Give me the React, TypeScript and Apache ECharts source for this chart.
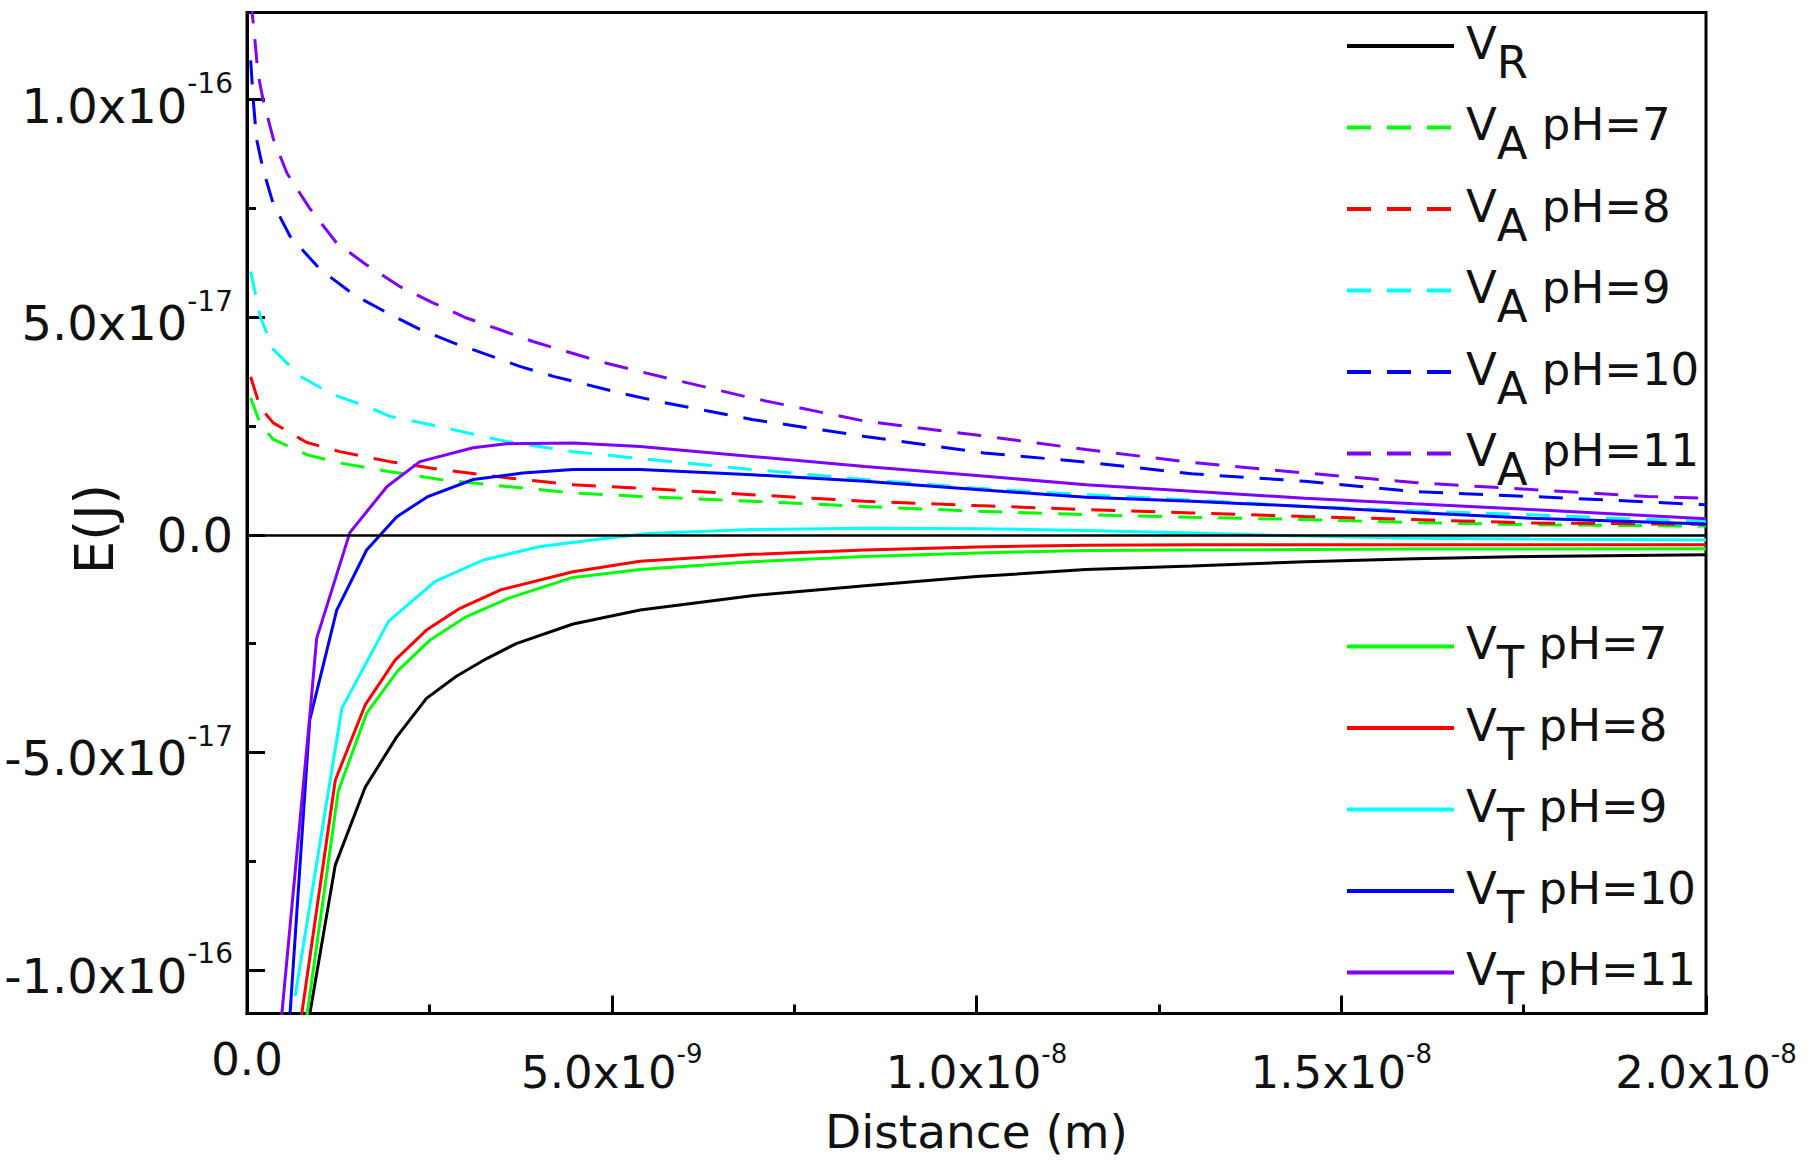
import React, { useEffect, useRef } from 'react';
import * as echarts from 'echarts';

// Distance in nm (x 1e-9 m), energy in units of 1e-17 J
const vR: [number, number][] = [
  [0.8, -11.6], [1.21, -7.59], [1.62, -5.8], [2.05, -4.65], [2.46, -3.76], [2.87, -3.25],
  [3.28, -2.85], [3.69, -2.5], [4.47, -2.05], [5.39, -1.73], [6.92, -1.4], [8.47, -1.17],
  [10.0, -0.96], [11.5, -0.8], [12.95, -0.72], [14.5, -0.62], [16.0, -0.55], [17.6, -0.5], [20.0, -0.46],
];

const vApH7: [number, number][] = [
  [0.05, 3.15], [0.18, 2.55], [0.36, 2.19], [0.82, 1.84], [1.27, 1.65], [1.96, 1.45], [2.65, 1.27],
  [3.56, 1.11], [4.47, 0.96], [5.39, 0.88], [6.92, 0.77], [8.47, 0.65], [10.0, 0.54], [11.5, 0.46],
  [12.95, 0.4], [14.5, 0.35], [16.0, 0.28], [17.6, 0.23], [20.0, 0.2],
];
const vApH8: [number, number][] = [
  [0.05, 3.63], [0.18, 2.93], [0.36, 2.57], [0.82, 2.12], [1.27, 1.91], [1.96, 1.68], [2.65, 1.5],
  [3.56, 1.31], [4.47, 1.15], [5.39, 1.07], [6.92, 0.92], [8.47, 0.77], [10.0, 0.67], [11.5, 0.58],
  [12.95, 0.5], [14.5, 0.42], [16.0, 0.35], [17.6, 0.27], [20.0, 0.24],
];
const vApH9: [number, number][] = [
  [0.05, 6.05], [0.18, 5.02], [0.36, 4.26], [0.73, 3.64], [1.18, 3.22], [1.64, 2.95], [1.96, 2.72],
  [2.65, 2.48], [3.56, 2.14], [4.47, 1.91], [5.39, 1.75], [6.92, 1.5], [8.47, 1.27], [10.0, 1.07],
  [11.5, 0.92], [12.95, 0.8], [14.5, 0.65], [16.0, 0.55], [17.6, 0.46], [20.0, 0.3],
];
const vApH10: [number, number][] = [
  [0.05, 10.9], [0.09, 9.9], [0.13, 9.1], [0.22, 8.4], [0.36, 7.6], [0.59, 6.86], [1.0, 6.1],
  [1.46, 5.52], [1.92, 5.1], [2.37, 4.72], [2.83, 4.41], [3.29, 4.14], [3.74, 3.87], [4.2, 3.64],
  [4.66, 3.45], [5.11, 3.26], [5.62, 3.07], [6.92, 2.65], [8.47, 2.26], [10.1, 1.88], [11.5, 1.67],
  [12.95, 1.4], [14.5, 1.23], [16.0, 0.99], [17.6, 0.88], [20.0, 0.69],
];
const vApH11: [number, number][] = [
  [0.05, 12.3], [0.09, 11.7], [0.15, 10.6], [0.22, 10.0], [0.36, 9.1], [0.55, 8.3], [0.86, 7.5],
  [1.23, 6.7], [1.64, 6.2], [2.1, 5.7], [2.55, 5.33], [3.01, 4.98], [3.47, 4.71], [3.92, 4.44],
  [4.38, 4.21], [4.84, 3.98], [5.36, 3.76], [6.92, 3.14], [8.47, 2.61], [10.0, 2.29], [11.5, 1.96],
  [12.95, 1.66], [14.5, 1.42], [16.0, 1.2], [17.6, 1.04], [19.2, 0.88], [20.0, 0.84],
];

const vTpH7: [number, number][] = [
  [0.8, -11.3], [1.25, -5.9], [1.64, -4.1], [2.07, -3.12], [2.51, -2.42], [3.01, -1.88], [3.6, -1.45],
  [4.47, -0.98], [5.39, -0.8], [6.92, -0.62], [8.47, -0.5], [10.0, -0.42], [11.5, -0.36],
  [12.95, -0.35], [14.5, -0.34], [16.0, -0.33], [17.6, -0.33], [20.0, -0.32],
];
const vTpH8: [number, number][] = [
  [0.7, -11.6], [1.21, -5.64], [1.62, -3.91], [2.03, -2.88], [2.46, -2.19], [2.92, -1.69], [3.47, -1.27],
  [4.47, -0.85], [5.39, -0.61], [6.92, -0.45], [8.47, -0.35], [10.0, -0.28], [11.5, -0.24],
  [12.95, -0.23], [14.5, -0.23], [16.0, -0.23], [17.6, -0.23], [20.0, -0.23],
];
const vTpH9: [number, number][] = [
  [0.66, -10.6], [1.3, -3.99], [1.94, -1.99], [2.58, -1.07], [3.24, -0.58], [4.02, -0.27], [4.93, -0.08],
  [5.5, 0.03], [6.92, 0.12], [8.47, 0.15], [10.0, 0.14], [11.5, 0.1], [12.95, 0.04], [14.5, -0.03],
  [16.0, -0.08], [17.6, -0.1], [20.0, -0.12],
];
const vTpH10: [number, number][] = [
  [0.57, -11.5], [0.86, -4.26], [1.23, -1.73], [1.64, -0.35], [2.05, 0.41], [2.47, 0.87], [3.1, 1.27],
  [3.78, 1.42], [4.47, 1.5], [5.39, 1.5], [6.92, 1.38], [8.47, 1.23], [10.0, 1.04], [11.5, 0.86],
  [12.95, 0.77], [14.5, 0.65], [16.0, 0.51], [17.6, 0.38], [20.0, 0.25],
];
const vTpH11: [number, number][] = [
  [0.45, -11.5], [0.86, -4.18], [0.955, -2.38], [1.41, 0.05], [1.92, 1.11], [2.37, 1.68], [3.1, 2.0],
  [3.56, 2.09], [4.47, 2.11], [5.39, 2.03], [6.92, 1.8], [8.47, 1.57], [10.0, 1.36], [11.5, 1.15],
  [12.95, 1.0], [14.5, 0.84], [16.0, 0.71], [17.6, 0.58], [20.0, 0.37],
];

const seriesNames = [
  'VR', 'VA pH=7', 'VA pH=8', 'VA pH=9', 'VA pH=10', 'VA pH=11',
  'VT pH=7', 'VT pH=8', 'VT pH=9', 'VT pH=10', 'VT pH=11',
];
const seriesData = [vR, vApH7, vApH8, vApH9, vApH10, vApH11, vTpH7, vTpH8, vTpH9, vTpH10, vTpH11];
const seriesColors = [
  '#000000', '#00ff00', '#ff0000', '#00ffff', '#0000ff', '#8000ff',
  '#00ff00', '#ff0000', '#00ffff', '#0000ff', '#8000ff',
];
const seriesDashed = [false, true, true, true, true, true, false, false, false, false, false];

const xTickValues = [0, 5, 10, 15, 20];
const xTickMantissas = ['0.0', '5.0', '1.0', '1.5', '2.0'];
const xTickExponents = ['', '-9', '-8', '-8', '-8'];
const yTickValues = [-10, -5, 0, 5, 10];
const yTickMantissas = ['-1.0', '-5.0', '0.0', '5.0', '1.0'];
const yTickExponents = ['-16', '-17', '', '-17', '-16'];
const yMinorTicks = [-7.5, -2.5, 2.5, 7.5];

const FONT = 'DejaVu Sans';
const INK = '#111111';

function tickLabel(values: number[], mants: string[], exps: string[], v: number): string {
  let idx = 0;
  let best = Infinity;
  values.forEach((t, i) => {
    const d = Math.abs(t - v);
    if (d < best) { best = d; idx = i; }
  });
  if (!exps[idx]) return `{z|${mants[idx]}}`;
  return `{m|${mants[idx]}x10}{s|${exps[idx]}}`;
}

function legendLabel(name: string): string {
  const sub = name.charAt(1);
  const rest = name.slice(2);
  return `{v|V}{s|${sub}}` + (rest ? `{t|${rest}}` : '');
}

const legendRich = {
  v: { fontFamily: FONT, fontSize: 45, lineHeight: 45, color: INK, padding: [0, 0, 6, 7], verticalAlign: 'middle' },
  s: { fontFamily: FONT, fontSize: 45, lineHeight: 45, color: INK, padding: [32, 0, 0, 0], verticalAlign: 'middle' },
  t: { fontFamily: FONT, fontSize: 45, lineHeight: 45, color: INK, padding: [0, 0, 6, 0], verticalAlign: 'middle' },
};

function makeLegend(names: string[], top: number) {
  return {
    data: names,
    orient: 'vertical',
    left: 1345,
    top,
    padding: 0,
    itemGap: 4.5,
    itemWidth: 107,
    itemHeight: 4,
    selectedMode: false,
    itemStyle: { opacity: 0 },
    lineStyle: { width: 4 },
    formatter: legendLabel,
    textStyle: { fontFamily: FONT, fontSize: 45, color: INK, rich: legendRich },
  };
}

export default function App() {
  const ref = useRef<HTMLDivElement>(null);
  useEffect(() => {
    document.body.style.margin = '0';
    const chart = echarts.init(ref.current!, null, { renderer: 'svg' });
    const series: any[] = seriesNames.map((name, i) => ({
      name,
      type: 'line',
      data: seriesData[i],
      symbol: 'none',
      showSymbol: false,
      smooth: false,
      clip: true,
      color: seriesColors[i],
      lineStyle: {
        color: seriesColors[i],
        width: 3,
        type: seriesDashed[i] ? [24, 16] : 'solid',
      },
      z: seriesDashed[i] ? 2 : 3,
    }));
    series[0].markLine = {
      silent: true,
      symbol: ['none', 'none'],
      label: { show: false },
      lineStyle: { color: '#000', width: 2.5, type: 'solid' },
      data: [{ yAxis: 0 }],
    };

    const option: any = {
      animation: false,
      backgroundColor: '#ffffff',
      textStyle: { fontFamily: FONT },
      grid: {
        left: 247, top: 12.5, width: 1459, height: 1001,
        containLabel: false,
        outerBoundsMode: 'none',
        show: true, borderColor: '#000', borderWidth: 3, backgroundColor: 'transparent',
      },
      legend: [
        makeLegend(seriesNames.slice(0, 6), 7.5),
        makeLegend(seriesNames.slice(6), 608),
      ],
      xAxis: {
        type: 'value',
        min: 0, max: 20, interval: 5,
        name: 'Distance (m)',
        nameLocation: 'middle',
        nameGap: 94,
        nameMoveOverlap: false,
        nameTextStyle: { fontFamily: FONT, fontSize: 47, color: INK },
        axisLine: { show: true, onZero: false, lineStyle: { color: '#000', width: 3 } },
        axisTick: { show: true, inside: true, length: 18, lineStyle: { color: '#000', width: 3 } },
        minorTick: { show: true, splitNumber: 2, length: 9, lineStyle: { color: '#000', width: 3 } },
        splitLine: { show: false },
        minorSplitLine: { show: false },
        axisLabel: {
          show: true, margin: 45.5, color: INK, fontFamily: FONT, fontSize: 45,
          verticalAlign: 'middle',
          showMinLabel: true, showMaxLabel: true, hideOverlap: false,
          formatter: (v: number) => tickLabel(xTickValues, xTickMantissas, xTickExponents, v),
          rich: {
            z: { fontFamily: FONT, fontSize: 45, lineHeight: 45, color: INK, verticalAlign: 'middle' },
            m: { fontFamily: FONT, fontSize: 45, lineHeight: 45, color: INK, padding: [27, 0, 0, 0], verticalAlign: 'middle' },
            s: { fontFamily: FONT, fontSize: 26, lineHeight: 26, color: INK, padding: [0, 0, 10, 0], verticalAlign: 'middle' },
          },
        },
      },
      yAxis: [
        {
          type: 'value',
          min: -11, max: 12,
          position: 'left',
          name: 'E(J)',
          nameLocation: 'middle',
          nameGap: 126,
          nameMoveOverlap: false,
          nameTextStyle: { fontFamily: FONT, fontSize: 53, color: INK, padding: [0, 32, 0, 0] },
          axisLine: { show: true, onZero: false, lineStyle: { color: '#000', width: 3 } },
          axisTick: {
            show: true, inside: true, length: 18, customValues: yTickValues,
            lineStyle: { color: '#000', width: 3 },
          },
          splitLine: { show: false },
          axisLabel: {
            show: true, margin: 14, color: INK, fontFamily: FONT, fontSize: 48,
            customValues: yTickValues, hideOverlap: false,
            formatter: (v: number) => tickLabel(yTickValues, yTickMantissas, yTickExponents, v),
            rich: {
              z: { fontFamily: FONT, fontSize: 48, lineHeight: 48, color: INK, verticalAlign: 'middle' },
              m: { fontFamily: FONT, fontSize: 48, lineHeight: 48, color: INK, padding: [12, 0, 0, 0], verticalAlign: 'middle' },
              s: { fontFamily: FONT, fontSize: 28, lineHeight: 28, color: INK, padding: [0, 0, 32, 0], verticalAlign: 'middle' },
            },
          },
        },
        {
          type: 'value',
          min: -11, max: 12,
          position: 'left',
          axisLine: { show: false, onZero: false },
          axisTick: {
            show: true, inside: true, length: 9, customValues: yMinorTicks,
            lineStyle: { color: '#000', width: 3 },
          },
          axisLabel: { show: false },
          splitLine: { show: false },
        },
      ],
      series,
    };
    chart.setOption(option);
    return () => chart.dispose();
  }, []);
  return <div ref={ref} style={{ width: 1810, height: 1172 }} />;
}
